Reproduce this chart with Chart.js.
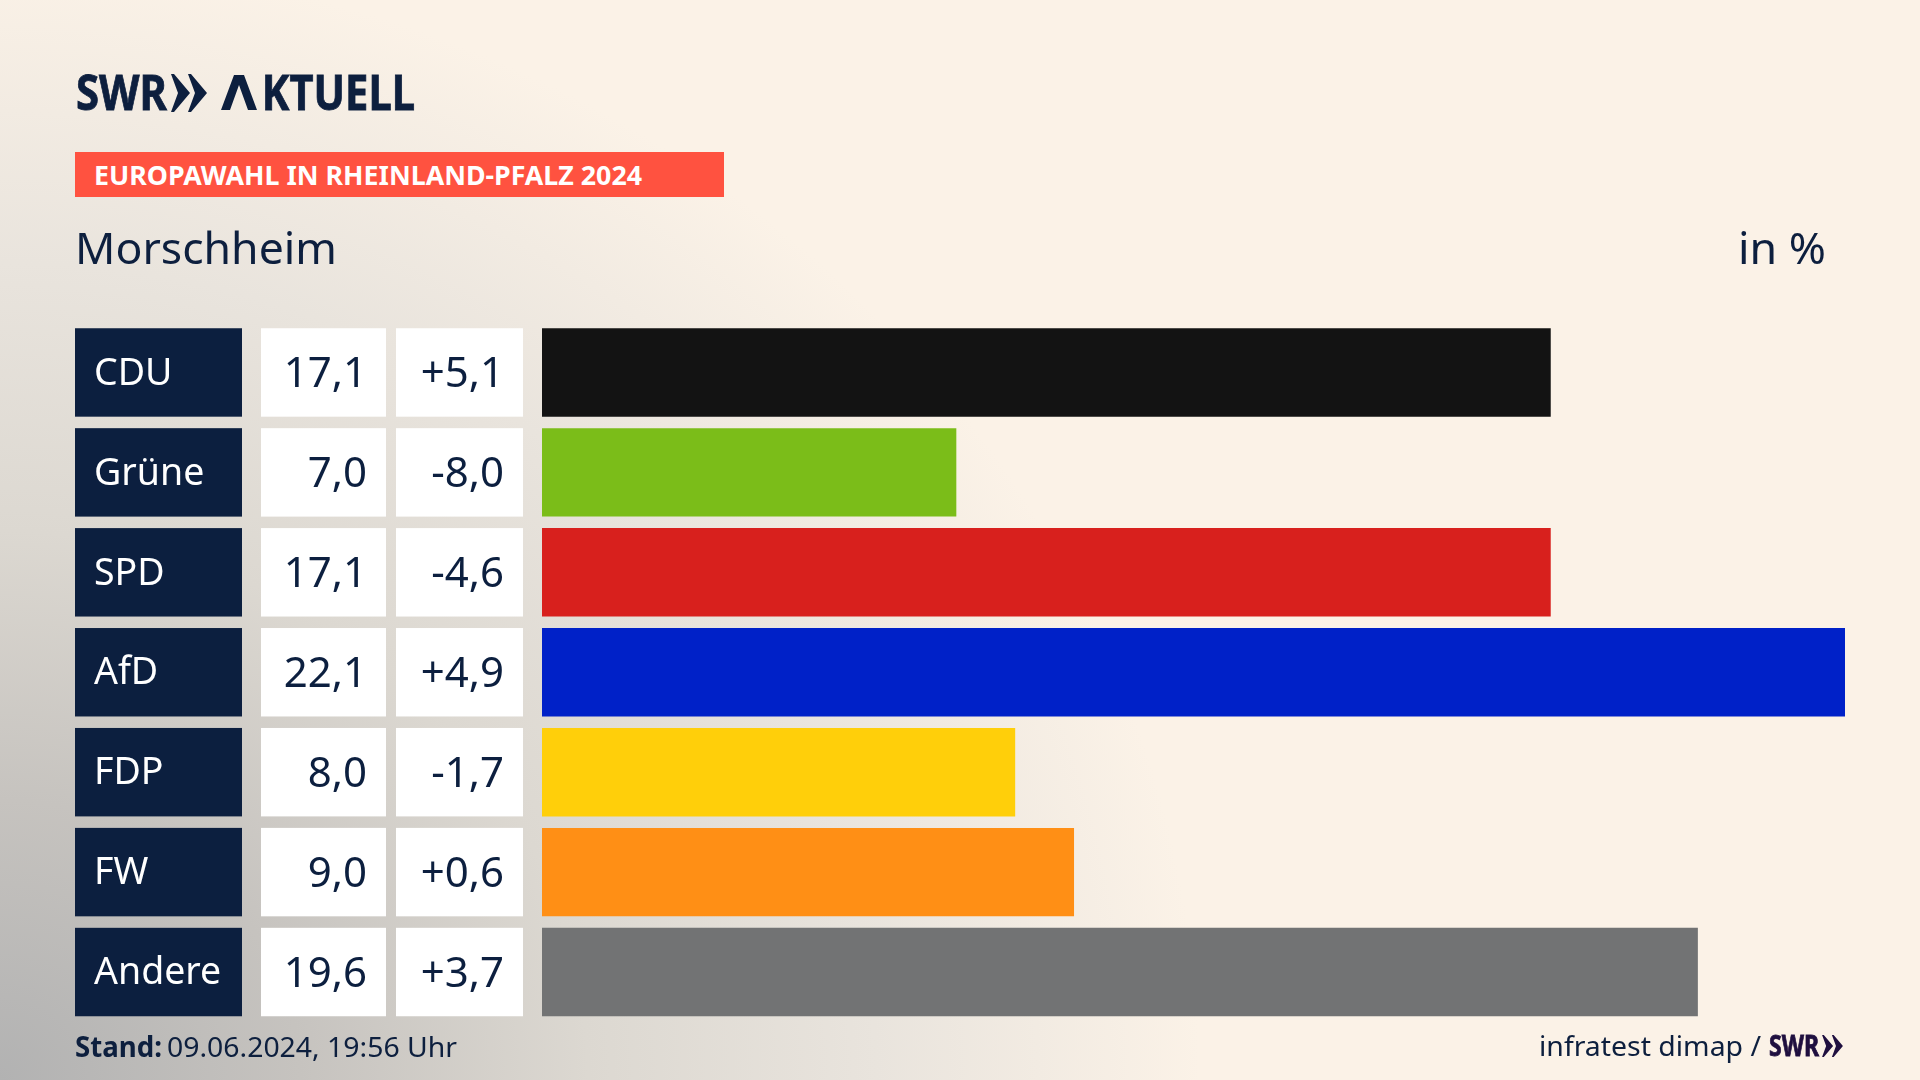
<!DOCTYPE html>
<html lang="de">
<head>
<meta charset="utf-8">
<title>Europawahl in Rheinland-Pfalz 2024 - Morschheim</title>
<script src="https://cdn.jsdelivr.net/npm/chart.js@4"></script>
<style>
  html, body { margin: 0; padding: 0; }
  body {
    width: 1920px; height: 1080px; overflow: hidden; position: relative;
    background: #fbf2e7;
    background-image: radial-gradient(ellipse 1200px 1120px at 0 100%, #b2b2b2 0%, #c6c3bf 25%, #dcd8d1 49%, #e9e4dd 73%, #fbf2e7 100%);
    color: #0d1f3e; font-family: 'Noto Sans', sans-serif;
  }
  canvas { position: absolute; left: 0; top: 0; }
  .txt { position: absolute; white-space: nowrap; transform-origin: 0 0; }
  .logo { -webkit-text-stroke: 0.8px currentColor; }
  #banner { position: absolute; left: 75px; top: 152px; width: 649px; height: 45px; background: #ff5240; }
  .chev { position: absolute; }
  .hidden-a { color: transparent; -webkit-text-stroke: 0; display: inline-block; width: 47px; }
</style>
</head>
<body>
<canvas id="chart" width="1920" height="1080"></canvas>

<div class="txt logo" data-w="91" style="left:76px;top:59px;font:700 48px 'Noto Sans';">SWR</div>
<svg class="chev" style="left:171px;top:74px" width="36" height="38" viewBox="0 0 36 38">
  <polygon fill="#0d1f3e" points="0,0 3,0 19,19 3,38 0,38 7,19"/>
  <polygon fill="#0d1f3e" points="17,0 20,0 36,19 20,38 17,38 24,19"/>
</svg>
<div class="txt logo" data-w="194" style="left:221px;top:59px;font:700 48px 'Noto Sans';"><span class="hidden-a">A</span>KTUELL</div>
<svg class="chev" style="left:221px;top:75px" width="36" height="35" viewBox="0 0 36 35">
  <polygon fill="#0d1f3e" points="0,35 13,0 23,0 36,35 27,35 18,10 9,35"/>
</svg>

<div id="banner"></div>
<div class="txt" data-w="548" style="left:94px;top:156px;color:#fff;font:700 27px 'Noto Sans';">EUROPAWAHL IN RHEINLAND-PFALZ 2024</div>

<div class="txt" data-w="262" style="left:75px;top:217px;font:400 44px 'Noto Sans';">Morschheim</div>
<div class="txt" data-w="88" style="left:1738px;top:217px;font:400 44px 'Noto Sans';">in %</div>

<div class="txt" data-w="87" style="left:75px;top:1027px;font:700 28px 'Noto Sans';">Stand:</div>
<div class="txt" data-w="290" style="left:167px;top:1027px;font:400 28px 'Noto Sans';">09.06.2024, 19:56 Uhr</div>

<div class="txt" data-w="222" style="left:1539px;top:1026px;font:400 28px 'Noto Sans';">infratest dimap /</div>
<div class="txt logo" data-w="50" style="left:1769px;top:1025px;color:#1f0f3f;font:700 29px 'Noto Sans';">SWR</div>
<svg class="chev" style="left:1822px;top:1035px" width="21" height="22" viewBox="0 0 36 38">
  <polygon fill="#1f0f3f" points="0,0 3,0 19,19 3,38 0,38 7,19"/>
  <polygon fill="#1f0f3f" points="17,0 20,0 36,19 20,38 17,38 24,19"/>
</svg>

<script>
const parties = ['CDU', 'Grüne', 'SPD', 'AfD', 'FDP', 'FW', 'Andere'];
const shares = [17.1, 7.0, 17.1, 22.1, 8.0, 9.0, 19.6];
const changes = [5.1, -8.0, -4.6, 4.9, -1.7, 0.6, 3.7];
const barColors = ['#131313', '#7bbd19', '#d8201d', '#0021c8', '#ffcf0a', '#ff8f15', '#727374'];

const NAVY = '#0c1f3f';
const AXIS_MIN = -0.04;

function fmt(v) {
  return v.toFixed(1).replace('.', ',');
}

function fmtChange(v) {
  return (v > 0 ? '+' : '') + fmt(v);
}

// squeeze the page texts to the width they have in the picture
function fitTexts() {
  document.querySelectorAll('.txt').forEach(el => {
    const w = parseFloat(el.dataset.w);
    el.style.transform = 'scaleX(' + (w / el.getBoundingClientRect().width) + ')';
  });
}

// label box and the two white value cells left of each bar
const cellsPlugin = {
  id: 'cells',
  beforeDraw(chart) {
    const ctx = chart.ctx;
    const y = chart.scales.y;
    const h = chart.getDatasetMeta(0).data[0].height;
    ctx.save();
    parties.forEach((p, i) => {
      const c = y.getPixelForTick(i);
      ctx.fillStyle = NAVY;
      ctx.fillRect(75, c - h / 2, 167, h);
      ctx.fillStyle = '#fff';
      ctx.fillRect(261, c - h / 2, 125, h);
      ctx.fillRect(396, c - h / 2, 127, h);
    });
    ctx.restore();
  },
  afterDraw(chart) {
    const ctx = chart.ctx;
    const y = chart.scales.y;
    ctx.save();
    ctx.fillStyle = NAVY;
    ctx.font = "400 42px 'Noto Sans'";
    ctx.textAlign = 'right';
    ctx.textBaseline = 'alphabetic';
    parties.forEach((p, i) => {
      const c = y.getPixelForTick(i) + 15;
      ctx.fillText(fmt(shares[i]), 367, c);
      ctx.fillText(fmtChange(changes[i]), 504, c);
    });
    ctx.restore();
  }
};

new Chart(document.getElementById('chart'), {
  type: 'bar',
  data: {
    labels: parties,
    datasets: [{
      data: shares,
      base: AXIS_MIN,
      backgroundColor: barColors,
      borderWidth: 0,
      barPercentage: 0.885,
      categoryPercentage: 1
    }]
  },
  options: {
    indexAxis: 'y',
    responsive: false,
    animation: false,
    layout: { padding: { left: 94, right: 75, top: 322.5, bottom: 58 } },
    plugins: { legend: { display: false }, tooltip: { enabled: false } },
    scales: {
      x: { display: false, min: AXIS_MIN, max: 22.1 },
      y: {
        afterFit(scale) { scale.width = 448; },
        grid: { display: false },
        border: { display: false },
        ticks: {
          crossAlign: 'far',
          color: '#ffffff',
          font: { family: 'Noto Sans', size: 37.5 },
          labelOffset: 1.5,
          padding: 0
        }
      }
    }
  },
  plugins: [cellsPlugin]
});

fitTexts();
</script>
</body>
</html>
